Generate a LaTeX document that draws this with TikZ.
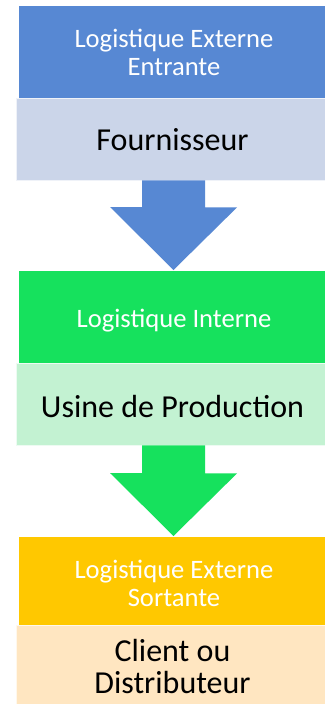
\documentclass[tikz,border=0pt]{standalone}
\usepackage{fontspec}
\setmainfont{Carlito}
\definecolor{hblue}{HTML}{5788D3}
\definecolor{lblue}{HTML}{CBD5E9}
\definecolor{hgreen}{HTML}{16E15D}
\definecolor{lgreen}{HTML}{C3F2D2}
\definecolor{horange}{HTML}{FFC800}
\definecolor{lorange}{HTML}{FFE6C1}
\begin{document}
\begin{tikzpicture}[x=1pt,y=1pt,
  hdr/.style={anchor=north west, inner sep=0pt, outer sep=0pt, minimum width=310pt},
  sub/.style={anchor=north west, inner sep=0pt, outer sep=0pt, minimum width=313pt, draw=white!70!#1, line width=0.8pt, fill=#1},
  htext/.style={inner sep=0pt, align=center, text=white, font=\fontsize{26.6}{27.5}\selectfont},
  stext/.style={inner sep=0pt, align=center, text=black, font=\fontsize{32}{32}\selectfont}
]
\useasboundingbox (0,0) rectangle (324,-704);
\fill[white] (0,0) rectangle (324,-704);
% block 1
\node[hdr, fill=hblue, minimum height=92pt] (h1) at (19,-6) {};
\node[sub=lblue, minimum height=82pt] (s1) at (16,-98) {};
% block 2
\node[hdr, fill=hgreen, minimum height=92pt] (h2) at (19,-271) {};
\node[sub=lgreen, minimum height=82pt] (s2) at (16,-363) {};
% block 3
\node[hdr, fill=horange, minimum height=88pt] (h3) at (19,-537) {};
\node[sub=lorange, minimum height=82pt] (s3) at (16,-625) {};
% texts
\node[htext] (th1) at ([yshift=-0.5]h1.center) {Logistique Externe\\Entrante};
\node[stext] (ts1) at ([yshift=-1]s1.center) {Fournisseur};
\node[htext] (th2) at ([yshift=-4]h2.center) {Logistique Interne};
\node[stext] (ts2) at ([yshift=-3]s2.center) {Usine de Production};
\node[htext] (th3) at ([yshift=-2.5]h3.center) {Logistique Externe\\Sortante};
\node[stext] (ts3) at ([yshift=0]s3.center) {Client ou\\Distributeur};
% arrows
\coordinate (a1) at (173.5,-180.4);
\coordinate (t1) at (173.5,-270);
\fill[hblue] (a1) ++(-31.5,0) -- ++(63,0) -- ++(0,-27) -- ++(32,0) -- (t1) -- ++(-63.5,63) -- ++(32,0) -- cycle;
\coordinate (a2) at (173.5,-445.4);
\coordinate (t2) at (173.5,-536);
\fill[hgreen] (a2) ++(-31.5,0) -- ++(63,0) -- ++(0,-28) -- ++(32,0) -- (t2) -- ++(-63.5,63) -- ++(32,0) -- cycle;
\end{tikzpicture}
\end{document}
